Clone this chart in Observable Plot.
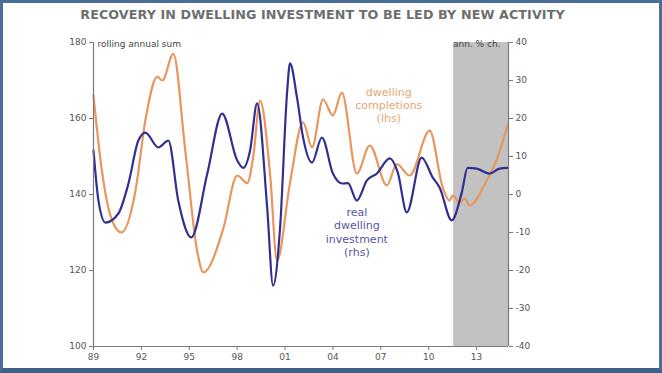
<!DOCTYPE html>
<html>
<head>
<meta charset="utf-8">
<script src="https://cdn.jsdelivr.net/npm/d3@7"></script>
<script src="https://cdn.jsdelivr.net/npm/@observablehq/plot@0.6"></script>
<style>
  html, body { margin: 0; padding: 0; background: #fff; }
  #wrap { position: relative; width: 662px; height: 373px; overflow: hidden; background: #fff; font-family: "DejaVu Sans", Verdana, sans-serif; }
  #wrap svg { position: absolute; left: 0; top: 0; }
  #title { position: absolute; left: 0; width: 645px; top: 7px; text-align: center; font-weight: bold; font-size: 12.7px; color: #6e6e6e; letter-spacing: 0.1px; }
  #border { position: absolute; left: 0; top: 0; width: 662px; height: 373px; box-sizing: border-box; border: 3px solid #4a6e98; border-bottom-width: 5px; border-bottom-color: #3d5f88; pointer-events: none; }
</style>
</head>
<body>
<div id="wrap">
  <div id="title">RECOVERY IN DWELLING INVESTMENT TO BE LED BY NEW ACTIVITY</div>
  <div id="border"></div>
</div>
<script>
// Dwelling completions, rolling annual sum (lhs)
const completionsYear = [1989.0, 1989.44, 1990.06, 1990.75, 1991.63, 1992.25, 1993.0, 1993.31, 1994.0, 1994.75, 1995.5, 1995.88, 1997.13, 1998.0, 1998.63, 1999.0, 1999.44, 2000.06, 2000.5, 2001.31, 2002.13, 2002.69, 2003.38, 2004.0, 2004.56, 2005.5, 2006.31, 2007.38, 2008.0, 2008.81, 2010.06, 2010.88, 2011.31, 2011.5, 2011.94, 2012.25, 2012.56, 2013.63, 2014.25, 2014.94];
const completionsValue = [166, 149, 134.5, 130, 141, 159.5, 171, 170, 177, 151.6, 125, 119.5, 131, 145, 143, 149.7, 164.7, 145.5, 122.6, 143, 159, 152.4, 165, 160.8, 166.8, 145.5, 152.9, 142.4, 148, 145, 156.8, 141.8, 138.4, 139.7, 137.9, 139, 137.1, 143.7, 149, 158.2];

// Real dwelling investment, annual % change (rhs)
const investmentYear = [1989.0, 1989.31, 1989.75, 1990.56, 1991.19, 1991.81, 1992.25, 1993.06, 1993.69, 1994.31, 1995.13, 1996.13, 1997.06, 1998.0, 1998.38, 1998.81, 1999.25, 1999.88, 2000.25, 2000.69, 2001.13, 2001.31, 2001.75, 2002.13, 2002.69, 2003.31, 2004.0, 2004.56, 2004.94, 2005.5, 2006.13, 2006.75, 2007.56, 2008.06, 2008.63, 2009.56, 2010.25, 2010.69, 2011.44, 2012.06, 2012.44, 2013.0, 2013.81, 2014.44, 2014.94];
const investmentChange = [11.6, -1.6, -7.4, -5, 2.9, 14.2, 16.3, 12.4, 14.2, -1.6, -11.3, 5.5, 21.3, 9, 7, 11.6, 24, -3.4, -24, -8.7, 27, 34.5, 25.5, 15, 8.4, 15, 5.5, 2.9, 3, -1.6, 3.7, 5.5, 9.5, 5.8, -4.7, 9.7, 4.5, 1.8, -6.8, 0.3, 7, 6.8, 5.5, 6.8, 7];

// Forecast shading
const forecastStart = 2011.56;
const xDomain = [1989, 2015];
const lhsDomain = [100, 180];
const rhsDomain = [-40, 40];
const xTicks = [1989, 1992, 1995, 1998, 2001, 2004, 2007, 2010, 2013];
const lhsTicks = [100, 120, 140, 160, 180];
const rhsTicks = [-40, -30, -20, -10, 0, 10, 20, 30, 40];

// Annotation labels
const labelText = ["dwelling\ncompletions\n(lhs)", "real\ndwelling\ninvestment\n(rhs)"];
const labelYear = [2007.5, 2005.5];
const labelValue = [163.6, 130.2];
const labelColor = ["#e8a676", "#5656a0"];

const rhsOffset = lhsDomain[0] - rhsDomain[0]; // rhs value + offset => lhs scale value

const completions = completionsYear.map((x, i) => ({x, y: completionsValue[i]}));
const investment = investmentYear.map((x, i) => ({x, y: investmentChange[i] + rhsOffset}));
const labels = labelText.map((t, i) => ({t, x: labelYear[i], y: labelValue[i], c: labelColor[i]}));

const axisColor = "#7a7a7a";
const tickText = "#555";

const chart = Plot.plot({
  width: 662,
  height: 373,
  marginTop: 42,
  marginBottom: 27,
  marginLeft: 93,
  marginRight: 154,
  style: {fontFamily: "DejaVu Sans, Verdana, sans-serif", fontSize: "9px", background: "transparent", color: tickText},
  x: {domain: xDomain, type: "linear"},
  y: {domain: lhsDomain},
  marks: [
    Plot.rect([{x1: forecastStart, x2: xDomain[1]}], {x1: "x1", x2: "x2", y1: lhsDomain[0], y2: lhsDomain[1], fill: "#c2c2c2"}),
    Plot.line(completions, {x: "x", y: "y", stroke: "#e8965e", strokeWidth: 2.2, curve: "monotone-x"}),
    Plot.line(investment, {x: "x", y: "y", stroke: "#303090", strokeWidth: 2.2, curve: "monotone-x"}),
    Plot.text(labels, {x: "x", y: "y", text: "t", fill: "c", fontSize: 11, lineHeight: 1.2, textAnchor: "middle"}),
    Plot.ruleX([xDomain[0]], {stroke: axisColor, strokeWidth: 1.2}),
    Plot.ruleX([xDomain[1]], {stroke: axisColor, strokeWidth: 1.2}),
    Plot.ruleY([lhsDomain[0]], {stroke: axisColor, strokeWidth: 1.2}),
    Plot.axisX(xTicks, {tickSize: 4, tickPadding: 3, stroke: axisColor, fill: tickText, tickFormat: d => String(d).slice(2), label: null}),
    Plot.axisY(lhsTicks, {anchor: "left", tickSize: 4, tickPadding: 3, stroke: axisColor, fill: tickText, label: null}),
    Plot.axisY(rhsTicks.map(d => d + rhsOffset), {anchor: "right", tickSize: 4, tickPadding: 3, stroke: axisColor, fill: tickText, tickFormat: d => String(d - rhsOffset), label: null}),
    Plot.text(["rolling annual sum"], {frameAnchor: "top-left", dx: 4, dy: -2, fontSize: 9, fill: "#444"}),
    Plot.text(["ann. % ch."], {frameAnchor: "top-right", dx: -8, dy: -2, fontSize: 9, fill: "#444"})
  ]
});
document.getElementById("wrap").insertBefore(chart, document.getElementById("border"));
</script>
</body>
</html>
